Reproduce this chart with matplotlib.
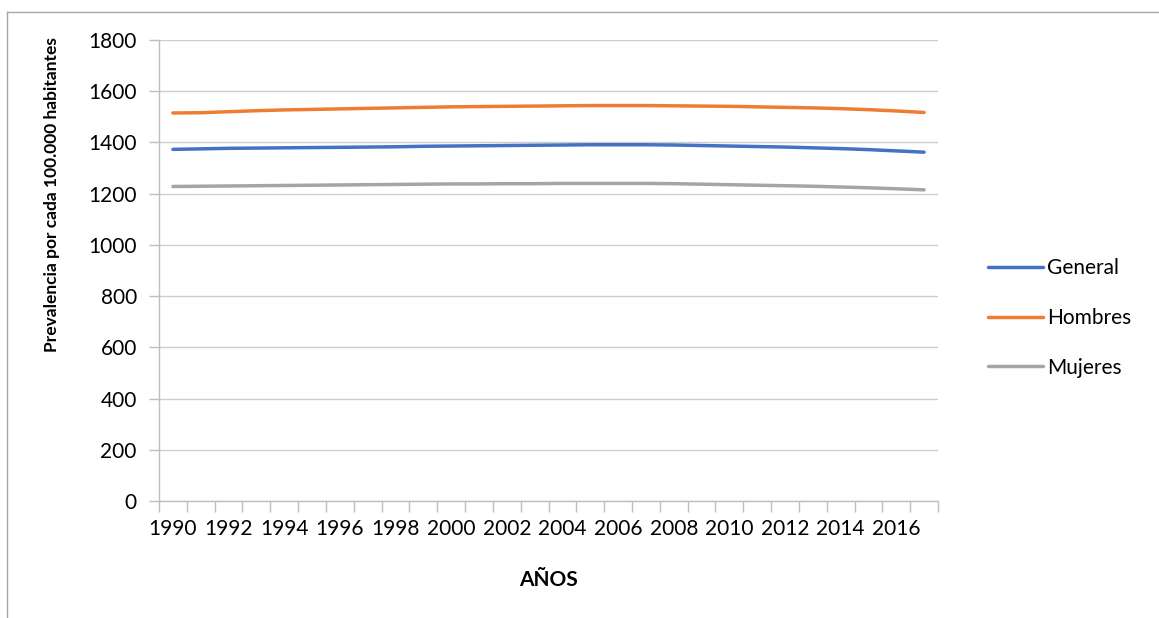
import matplotlib
matplotlib.use('Agg')
import matplotlib.pyplot as plt
from matplotlib.lines import Line2D

years = list(range(1990, 2018))

general = [1373, 1375, 1377, 1378, 1379, 1380, 1381, 1382, 1383, 1385,
           1386, 1387, 1388, 1389, 1390, 1391, 1391, 1391, 1390, 1388,
           1386, 1384, 1382, 1379, 1376, 1372, 1367, 1362]
hombres = [1515, 1516, 1520, 1524, 1527, 1529, 1531, 1533, 1535, 1537,
           1539, 1540, 1541, 1542, 1543, 1544, 1544, 1544, 1543, 1542,
           1541, 1539, 1537, 1535, 1532, 1528, 1523, 1517]
mujeres = [1228, 1229, 1230, 1231, 1232, 1233, 1234, 1235, 1236, 1237,
           1238, 1238, 1239, 1239, 1240, 1240, 1240, 1240, 1239, 1237,
           1235, 1233, 1231, 1229, 1226, 1223, 1219, 1215]

series_names = ["General", "Hombres", "Mujeres"]
colors = ["#4472C4", "#ED7D31", "#A5A5A5"]

plt.rcParams['font.family'] = ['Lato', 'DejaVu Sans']

W, H = 1159, 618
fig = plt.figure(figsize=(W / 100, H / 100), dpi=100)
ax = fig.add_axes([159 / W, 1 - 501 / H, (938 - 159) / W, (501 - 40) / H])

x = list(range(len(years)))
for vals, name, c in zip([general, hombres, mujeres], series_names, colors):
    ax.plot(x, vals, color=c, linewidth=2.5, label=name, solid_capstyle='round')

ax.set_xlim(-0.5, len(years) - 0.5)
ax.set_ylim(0, 1800)
ax.set_yticks(range(0, 1801, 200))
ax.yaxis.grid(True, color='#cccccc', linewidth=1)
ax.set_axisbelow(True)

# category axis: labels every 2 years, tick marks between categories
ax.set_xticks(x[::2])
ax.set_xticklabels([str(y) for y in years[::2]])
ax.set_xticks([i - 0.5 for i in range(len(years) + 1)], minor=True)
ax.tick_params(axis='x', which='major', length=0, pad=13, labelsize=15)
ax.tick_params(axis='x', which='minor', length=8, color='#bfbfbf', width=1)
ax.tick_params(axis='y', length=7, color='#bfbfbf', width=1, pad=9, labelsize=15)

for s in ['top', 'right']:
    ax.spines[s].set_visible(False)
for s in ['left', 'bottom']:
    ax.spines[s].set_color('#bfbfbf')
    ax.spines[s].set_linewidth(1)

ax.set_xlabel("AÑOS", fontsize=15, fontweight='bold', labelpad=22)
fig.text(52 / W, 1 - 195 / H, "Prevalencia por cada 100.000 habitantes",
         rotation=90, ha='center', va='center', fontsize=12.5, fontweight='bold')

fig.legend(loc='center left', bbox_to_anchor=(988 / W, 1 - 318 / H),
           frameon=False, fontsize=15, handlelength=2.65, handletextpad=0.2,
           labelspacing=1.42, borderpad=0, borderaxespad=0)

# chart border (top and left visible)
fig.add_artist(Line2D([6.5 / W, 6.5 / W], [0, 1 - 11.5 / H], color='#a6a6a6', lw=1))
fig.add_artist(Line2D([6.5 / W, 1], [1 - 11.5 / H, 1 - 11.5 / H], color='#a6a6a6', lw=1))

fig.savefig("out.png", dpi=100)
